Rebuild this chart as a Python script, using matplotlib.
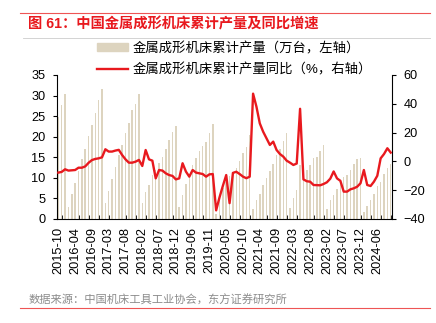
import numpy as np
import matplotlib
matplotlib.use('Agg')
import matplotlib.pyplot as plt
from matplotlib.patches import Patch
from matplotlib.lines import Line2D

plt.rcParams['font.family'] = ['Liberation Sans', 'Noto Sans CJK SC', 'DejaVu Sans']

# months: cumulative data, no January
months = (['2015-10', '2015-11', '2015-12'] +
          ['%d-%02d' % (y, m) for y in range(2016, 2024) for m in range(2, 13)] +
          ['2024-%02d' % m for m in range(2, 11)])

# cumulative output (10k units), left axis
output = [24.9, 27.7, 30.3,
          2.8, 6.1, 8.7, 11.7, 14.5, 17.0, 20.2, 22.8, 25.8, 28.8, 31.5,
          4.0, 6.9, 9.6, 12.7, 15.6, 18.0, 20.8, 23.4, 26.5, 27.9, 30.4,
          3.8, 6.6, 8.3, 10.7, 11.9, 13.7, 15.1, 16.9, 19.2, 21.2, 22.6,
          2.8, 5.8, 8.6, 11.0, 13.0, 14.8, 16.5, 17.7, 18.8, 20.8, 23.1,
          1.2, 4.5, 7.5, 9.0, 10.5, 11.5, 12.5, 14.0, 16.0, 17.6, 20.3,
          2.4, 4.6, 6.1, 8.3, 9.9, 11.7, 13.4, 15.6, 16.9, 19.0, 20.8,
          2.6, 5.0, 7.0, 13.1, 9.9, 11.8, 13.1, 14.7, 15.0, 16.6, 18.0,
          2.4, 4.6, 5.8, 7.2, 8.8, 10.3, 10.7, 11.9, 13.4, 14.5, 14.7,
          1.8, 3.2, 4.6, 6.1, 8.0, 9.1, 10.9, 12.3, 13.4]

# yoy growth (%), right axis
yoy = [-7.8, -7.3, -5.5,
       -6.4, -6.2, -6.0, -4.4, -4.4, -3.5, -1.0, 0.9, 1.7, 2.1, 2.8,
       8.4, 6.8, 6.8, 7.5, 8.0, 4.4, 1.4, -0.9, -0.9, -0.2, 1.0,
       -3.2, 7.9, 1.4, 0.5, -11.8, -6.0, -6.4, -8.3, -9.5, -10.1, -12.5,
       -11.8, -1.3, -7.1, -10.6, -6.0, -7.8, -8.3, -8.8, -10.6, -9.0, -8.8,
       -34.0, -25.0, -17.0, -9.5, -29.0, -8.0, -7.2, -8.8, -10.6, -11.7, -10.6,
       47.0, 38.0, 26.4, 20.6, 16.0, 11.4, 13.7, 7.9, 5.1, 3.3, 0.5,
       -0.9, -2.5, -1.5, 36.5, -12.5, -13.8, -14.1, -16.4, -16.5, -16.6, -15.7,
       -14.5, -12.0, -7.0, -11.8, -13.5, -21.0, -21.0, -19.4, -18.7, -17.6, -15.2,
       -6.0, -16.4, -17.1, -14.1, -10.0, 2.1, 5.1, 9.1, 6.1]

bar_label = '金属成形机床累计产量（万台，左轴）'
line_label = '金属成形机床累计产量同比（%，右轴）'
title = '图 61：中国金属成形机床累计产量及同比增速'
source = '数据来源：中国机床工具工业协会，东方证券研究所'

bar_color = '#DDD4BF'
red = '#E8191E'
fs = 9.2

fig = plt.figure(figsize=(4.36, 3.23), dpi=100)
ax = fig.add_axes([0.130, 0.322, 0.770, 0.446])
x = np.arange(len(months))
ax.bar(x, output, width=0.45, color=bar_color, zorder=2)
ax.set_ylim(0, 35)
ax.set_yticks(range(0, 36, 5))
ax.set_xlim(-0.5, len(months) - 0.5)
ax.set_xticks(x[::5])
ax.set_xticklabels(months[::5], rotation=90, fontsize=fs)
ax.set_xticks(x, minor=True)
ax.tick_params(axis='x', which='both', direction='in', length=3, width=0.6, pad=6)
ax.tick_params(axis='y', direction='out', length=3, width=0.8, labelsize=fs, pad=5)
for s in ['top', 'right']:
    ax.spines[s].set_visible(False)
ax.spines['left'].set_linewidth(0.8)
ax.spines['bottom'].set_linewidth(0.8)

ax2 = ax.twinx()
ax2.plot(x, yoy, color=red, lw=1.7, zorder=3)
ax2.set_ylim(-40, 60)
ax2.set_yticks(range(-40, 61, 20))
ax2.tick_params(axis='y', direction='out', length=3, width=0.8, labelsize=fs, pad=5)
for s in ['top', 'left', 'bottom']:
    ax2.spines[s].set_visible(False)
ax2.spines['right'].set_linewidth(0.8)

handles = [Patch(color=bar_color), Line2D([], [], color=red, lw=1.7)]
fig.legend(handles, [bar_label, line_label], loc='upper left',
           bbox_to_anchor=(0.2225, 0.870), frameon=False, fontsize=9.6,
           handlelength=2.3, handleheight=0.55, handletextpad=0.35,
           labelspacing=0.6, borderpad=0, borderaxespad=0)

# header / footer
fig.add_artist(Line2D([0.045, 0.987], [0.961, 0.961], color='#EE5555', lw=0.8))
fig.text(0.064, 0.925, title, color=red, fontsize=10.3, fontweight='bold',
         va='center', ha='left')
fig.add_artist(Line2D([0.053, 0.987], [0.882, 0.882], color='#CCCCCC', lw=0.6))
fig.text(0.066, 0.071, source, color='#8C8C8C', fontsize=8.1, va='center', ha='left')
fig.add_artist(Line2D([0.045, 0.987], [0.046, 0.046], color='#EE5555', lw=0.8))

fig.savefig('out.png', dpi=100)
